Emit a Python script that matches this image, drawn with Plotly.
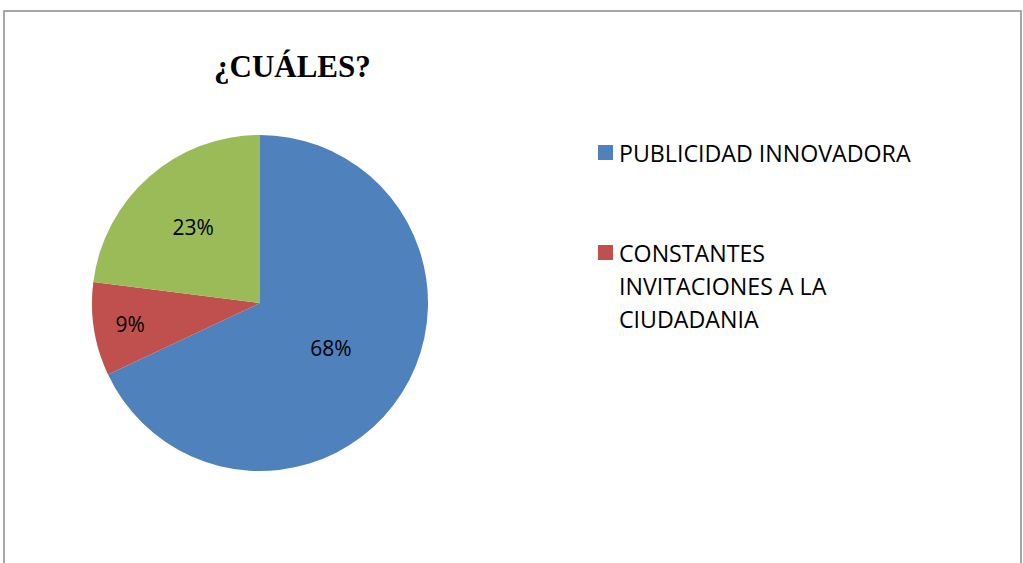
import plotly.graph_objects as go

categories = ["PUBLICIDAD INNOVADORA", "CONSTANTES<br>INVITACIONES A LA<br>CIUDADANIA", "OTROS"]
values = [68, 9, 23]
colors = ["#4F81BD", "#C0504D", "#9BBB59"]
legend_shown = [True, True, False]
title_text = "¿CUÁLES?"

W, H = 1023, 563

fig = go.Figure()
fig.add_trace(go.Pie(
    labels=categories,
    values=values,
    sort=False,
    direction="clockwise",
    rotation=0,
    marker=dict(colors=colors, line=dict(color="white", width=0)),
    textinfo="percent",
    texttemplate="%{percent:.0%}",
    textposition="inside",
    insidetextorientation="horizontal",
    textfont=dict(family="Open Sans", size=21, color="black"),
    domain=dict(x=[92 / W, 428 / W], y=[1 - 471 / H, 1 - 135 / H]),
    showlegend=False,
    hoverinfo="label+percent",
))

# manual legend (only first two entries visible in reference)
shapes = [dict(type="rect", xref="paper", yref="paper",
               x0=4 / W, x1=1021 / W, y0=-0.05, y1=1 - 11 / H,
               line=dict(color="#898989", width=1.5), fillcolor="rgba(0,0,0,0)")]
annotations = []
tops = [145, 245]
for i, (lab, col) in enumerate(zip(categories, colors)):
    if not legend_shown[i]:
        continue
    t = tops[i]
    shapes.append(dict(type="rect", xref="paper", yref="paper",
                       x0=598 / W, x1=613 / W, y0=1 - (t + 15) / H, y1=1 - t / H,
                       line=dict(width=0), fillcolor=col))
    for j, line in enumerate(lab.split("<br>")):
        yc = t + 8 + j * 33
        annotations.append(dict(text=line, xref="paper", yref="paper",
                                x=617 / W, y=1 - yc / H, xanchor="left", yanchor="middle",
                                showarrow=False,
                                font=dict(family="Open Sans", size=23.2, color="black")))

annotations.append(dict(text="<b>" + title_text + "</b>", xref="paper", yref="paper",
                        x=292 / W, y=1 - 66 / H, xanchor="center", yanchor="middle",
                        showarrow=False,
                        font=dict(family="Liberation Serif", size=31, color="black")))

fig.update_layout(
    width=W, height=H,
    margin=dict(l=0, r=0, t=0, b=0),
    paper_bgcolor="white",
    plot_bgcolor="white",
    shapes=shapes,
    annotations=annotations,
)

fig.write_html("out.html",
               config={"displayModeBar": False},
               post_script="document.body.style.margin='0';document.body.style.overflow='hidden';")
